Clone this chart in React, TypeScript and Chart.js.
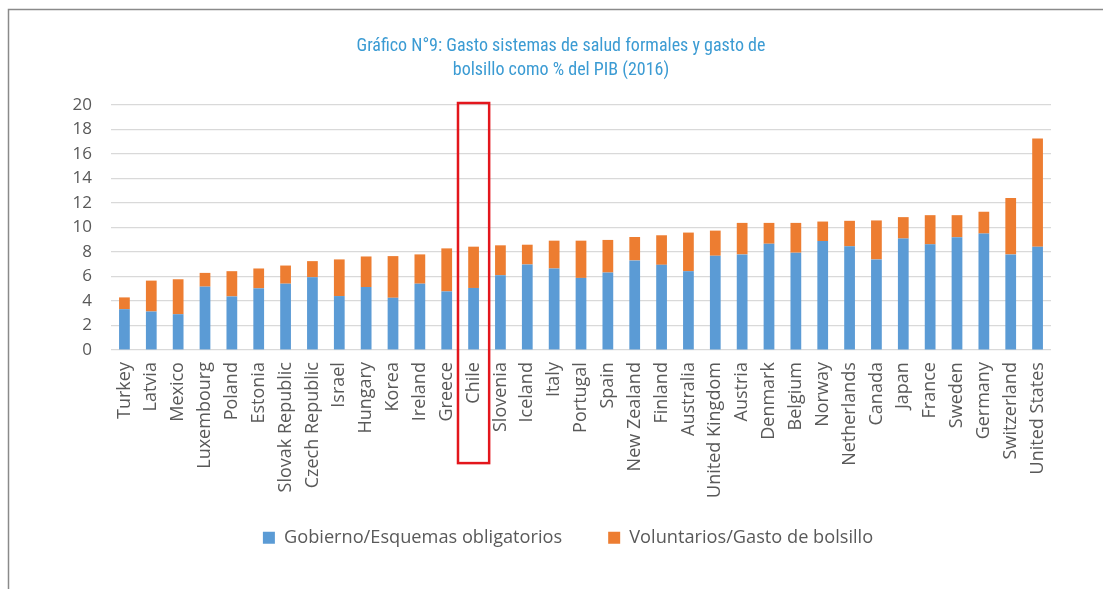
import React, { useEffect, useRef } from "react";
import { Chart, registerables } from "chart.js";

Chart.register(...registerables);

const categories = [
  "Turkey", "Latvia", "Mexico", "Luxembourg", "Poland", "Estonia", "Slovak Republic",
  "Czech Republic", "Israel", "Hungary", "Korea", "Ireland", "Greece", "Chile",
  "Slovenia", "Iceland", "Italy", "Portugal", "Spain", "New Zealand", "Finland",
  "Australia", "United Kingdom", "Austria", "Denmark", "Belgium", "Norway",
  "Netherlands", "Canada", "Japan", "France", "Sweden", "Germany", "Switzerland",
  "United States",
];

const gobierno = [
  3.34, 3.15, 2.93, 5.18, 4.38, 5.04, 5.42, 5.95, 4.41, 5.15, 4.27, 5.42, 4.79, 5.07,
  6.11, 6.99, 6.66, 5.89, 6.33, 7.32, 6.96, 6.44, 7.7, 7.81, 8.68, 7.95, 8.9, 8.47,
  7.4, 9.1, 8.63, 9.21, 9.51, 7.81, 8.44,
];

const voluntarios = [
  0.96, 2.52, 2.85, 1.12, 2.06, 1.62, 1.48, 1.31, 2.99, 2.49, 3.4, 2.39, 3.51, 3.37,
  2.44, 1.61, 2.27, 3.04, 2.66, 1.91, 2.41, 3.15, 2.05, 2.57, 1.7, 2.43, 1.59, 2.08,
  3.18, 1.75, 2.38, 1.8, 1.78, 4.6, 8.82,
];

const yTicks = [0, 2, 4, 6, 8, 10, 12, 14, 16, 18, 20];

const titleLines = [
  "Gráfico N°9: Gasto sistemas de salud formales y gasto de",
  "bolsillo como % del PIB (2016)",
];

const seriesNames = ["Gobierno/Esquemas obligatorios", "Voluntarios/Gasto de bolsillo"];
const highlighted = "Chile";

const framePlugin = {
  id: "frame",
  beforeDraw(chart: any) {
    const ctx = chart.ctx;
    ctx.save();
    ctx.fillStyle = "#ffffff";
    ctx.fillRect(0, 0, chart.width, chart.height);
    ctx.strokeStyle = "#8a8a8a";
    ctx.lineWidth = 1.5;
    ctx.beginPath();
    ctx.moveTo(8.5, chart.height);
    ctx.lineTo(8.5, 9.5);
    ctx.lineTo(chart.width, 9.5);
    ctx.stroke();
    ctx.restore();
  },
};

const legendShiftPlugin = {
  id: "legendShift",
  afterLayout(chart: any) {
    if (chart.legend) {
      chart.legend.left += 7;
      chart.legend.right += 7;
      chart.legend.top -= 17.5;
      chart.legend.bottom -= 17.5;
    }
  },
};

const titlePlugin = {
  id: "customTitle",
  afterDraw(chart: any) {
    const ctx = chart.ctx;
    ctx.save();
    ctx.fillStyle = "#3b9bd3";
    ctx.font = "18px 'Liberation Sans Narrow', 'Roboto Condensed', 'DejaVu Sans Condensed', Roboto, sans-serif";
    ctx.textAlign = "center";
    ctx.textBaseline = "middle";
    titleLines.forEach((t, i) => ctx.fillText(t, 561, 46 + i * 24));
    ctx.restore();
  },
};

const highlightPlugin = {
  id: "highlight",
  afterDatasetsDraw(chart: any) {
    const xs = chart.scales.x;
    const ys = chart.scales.y;
    const idx = categories.indexOf(highlighted);
    const cx = xs.getPixelForValue(idx);
    const cw = xs.width / categories.length;
    const half = cw * 0.58;
    const top = ys.getPixelForValue(20) - 2;
    const bottom = ys.bottom + 113;
    const ctx = chart.ctx;
    ctx.save();
    ctx.strokeStyle = "#e3161c";
    ctx.lineWidth = 2.5;
    ctx.strokeRect(cx - half, top, half * 2, bottom - top);
    ctx.restore();
  },
};

export default function App() {
  const ref = useRef<HTMLCanvasElement | null>(null);

  useEffect(() => {
    document.body.style.margin = "0";
    const canvas = ref.current;
    if (!canvas) return;
    const chart = new Chart(canvas, {
      type: "bar",
      data: {
        labels: categories,
        datasets: [
          {
            label: seriesNames[0],
            data: gobierno,
            backgroundColor: "#5b9bd5",
            barPercentage: 0.4,
            categoryPercentage: 1,
          },
          {
            label: seriesNames[1],
            data: voluntarios,
            backgroundColor: "#ed7d31",
            barPercentage: 0.4,
            categoryPercentage: 1,
          },
        ],
      },
      options: {
        animation: false,
        responsive: false,
        devicePixelRatio: 1,
        layout: { padding: { left: 71, right: 52, top: 105, bottom: 14.7 } },
        plugins: {
          title: { display: false },
          tooltip: { enabled: false },
          legend: {
            position: "bottom",
            labels: {
              boxWidth: 12,
              boxHeight: 12,
              padding: 46,
              color: "#595959",
              font: { family: "'Open Sans', sans-serif", size: 18.2 },
            },
          },
        },
        scales: {
          x: {
            stacked: true,
            grid: { display: false, drawTicks: false },
            border: { display: false },
            ticks: {
              autoSkip: false,
              minRotation: 90,
              maxRotation: 90,
              padding: 12,
              color: "#595959",
              font: { family: "'Open Sans', sans-serif", size: 18 },
            },
            afterFit(scale: any) {
              scale.height = 150;
            },
          },
          y: {
            stacked: true,
            min: 0,
            max: 20,
            afterBuildTicks(scale: any) {
              scale.ticks = yTicks.map((v) => ({ value: v }));
            },
            grid: { color: "#d9d9d9", lineWidth: 1.3, drawTicks: false },
            border: { display: false },
            ticks: {
              padding: 19,
              color: "#595959",
              font: { family: "'Open Sans', sans-serif", size: 17 },
            },
            afterFit(scale: any) {
              scale.width = 40;
            },
          },
        },
      },
      plugins: [framePlugin, legendShiftPlugin, highlightPlugin, titlePlugin],
    });
    return () => chart.destroy();
  }, []);

  return <canvas ref={ref} width={1103} height={589} style={{ display: "block" }} />;
}
